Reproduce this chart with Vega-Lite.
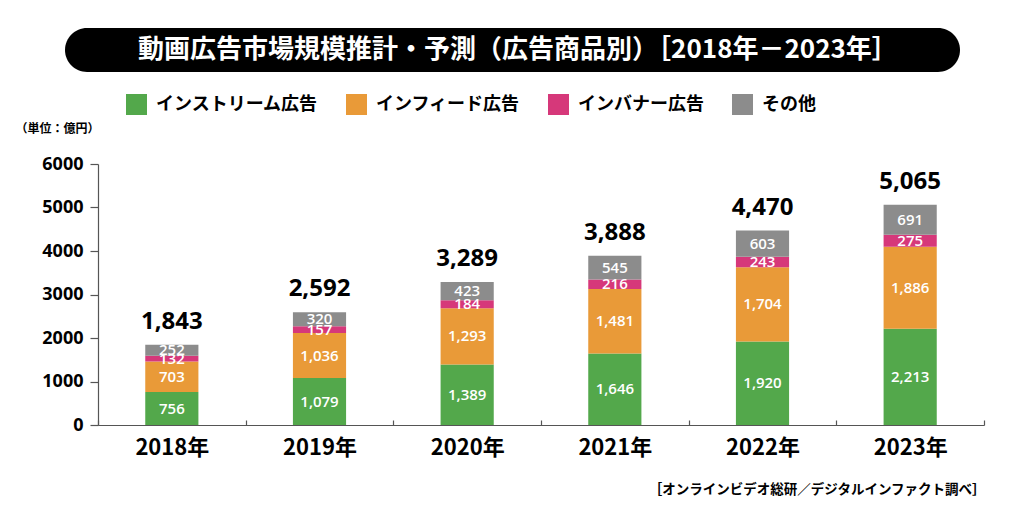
{
  "$schema": "https://vega.github.io/schema/vega-lite/v6.json",
  "background": "white",
  "autosize": {"type": "none"},
  "padding": {"left": 98, "top": 164, "right": 40, "bottom": 98},
  "width": 886,
  "height": 261,
  "config": {"view": {"stroke": null}, "font": "Noto Sans CJK JP"},
  "datasets": {
    "header": [{"t": "動画広告市場規模推計・予測（広告商品別）［2018年－2023年］"}],
    "market": [
      {"year": "2018年", "cat": "インストリーム広告", "ord": 1, "value": 756},
      {"year": "2018年", "cat": "インフィード広告", "ord": 2, "value": 703},
      {"year": "2018年", "cat": "インバナー広告", "ord": 3, "value": 132},
      {"year": "2018年", "cat": "その他", "ord": 4, "value": 252},
      {"year": "2019年", "cat": "インストリーム広告", "ord": 1, "value": 1079},
      {"year": "2019年", "cat": "インフィード広告", "ord": 2, "value": 1036},
      {"year": "2019年", "cat": "インバナー広告", "ord": 3, "value": 157},
      {"year": "2019年", "cat": "その他", "ord": 4, "value": 320},
      {"year": "2020年", "cat": "インストリーム広告", "ord": 1, "value": 1389},
      {"year": "2020年", "cat": "インフィード広告", "ord": 2, "value": 1293},
      {"year": "2020年", "cat": "インバナー広告", "ord": 3, "value": 184},
      {"year": "2020年", "cat": "その他", "ord": 4, "value": 423},
      {"year": "2021年", "cat": "インストリーム広告", "ord": 1, "value": 1646},
      {"year": "2021年", "cat": "インフィード広告", "ord": 2, "value": 1481},
      {"year": "2021年", "cat": "インバナー広告", "ord": 3, "value": 216},
      {"year": "2021年", "cat": "その他", "ord": 4, "value": 545},
      {"year": "2022年", "cat": "インストリーム広告", "ord": 1, "value": 1920},
      {"year": "2022年", "cat": "インフィード広告", "ord": 2, "value": 1704},
      {"year": "2022年", "cat": "インバナー広告", "ord": 3, "value": 243},
      {"year": "2022年", "cat": "その他", "ord": 4, "value": 603},
      {"year": "2023年", "cat": "インストリーム広告", "ord": 1, "value": 2213},
      {"year": "2023年", "cat": "インフィード広告", "ord": 2, "value": 1886},
      {"year": "2023年", "cat": "インバナー広告", "ord": 3, "value": 275},
      {"year": "2023年", "cat": "その他", "ord": 4, "value": 691}
    ]
  },
  "data": {"name": "market"},
  "layer": [
    {
      "mark": {"type": "bar", "width": {"band": 0.36}},
      "encoding": {
        "x": {
          "field": "year", "type": "nominal", "sort": null,
          "scale": {"domain": ["2018年", "2019年", "2020年", "2021年", "2022年", "2023年"], "paddingInner": 0, "paddingOuter": 0},
          "axis": {
            "title": "［オンラインビデオ総研／デジタルインファクト調べ］",
            "titleFont": "Noto Sans CJK JP", "titleFontSize": 13.5, "titleFontWeight": "bold", "titleColor": "black",
            "titleAlign": "right", "titleAnchor": "end", "titleX": 887, "titleY": 64, "titleBaseline": "middle",
            "labelAngle": 0, "labelFont": "Noto Sans CJK JP", "labelFontSize": 22, "labelFontWeight": "bold", "labelColor": "black",
            "labelPadding": 17, "tickBand": "extent", "tickSize": -5, "tickColor": "#555555", "domainColor": "#555555", "domainWidth": 1.2, "tickWidth": 1.2
          }
        },
        "y": {
          "field": "value", "type": "quantitative", "stack": "zero",
          "scale": {"domain": [0, 6000]},
          "axis": {
            "values": [0, 1000, 2000, 3000, 4000, 5000, 6000], "format": "d", "grid": false,
            "title": "（単位：億円）", "titleAngle": 0, "titleAlign": "left", "titleBaseline": "middle",
            "titleX": -83, "titleY": -36, "titleFont": "Noto Sans CJK JP", "titleFontSize": 12, "titleFontWeight": "bold", "titleColor": "black",
            "labelFont": "Open Sans", "labelFontSize": 18, "labelFontWeight": "bold", "labelColor": "black", "labelPadding": 7,
            "tickSize": 8, "tickColor": "#555555", "domainColor": "#555555", "domainWidth": 1.2, "tickWidth": 1.2
          }
        },
        "color": {
          "field": "cat", "type": "nominal",
          "scale": {"domain": ["インストリーム広告", "インフィード広告", "インバナー広告", "その他"], "range": ["#53a84b", "#e99a38", "#d6387a", "#8c8c8c"]},
          "legend": {
            "orient": "none", "legendX": 28, "legendY": -70, "direction": "horizontal", "padding": 0, "title": null,
            "symbolType": "square", "symbolSize": 441, "symbolStrokeWidth": 0, "symbolOpacity": 1,
            "labelFont": "Noto Sans CJK JP", "labelFontSize": 18, "labelFontWeight": "bold", "labelColor": "black",
            "labelOffset": 9, "columnPadding": 28, "labelLimit": 300
          }
        },
        "order": {"field": "ord"}
      }
    },
    {
      "mark": {"type": "text", "color": "white", "font": "Open Sans", "fontSize": 15, "fontWeight": 600, "baseline": "middle"},
      "encoding": {
        "x": {"field": "year", "type": "nominal", "sort": null},
        "y": {"field": "value", "type": "quantitative", "stack": "zero", "bandPosition": 0.5},
        "detail": {"field": "cat"},
        "order": {"field": "ord"},
        "text": {"field": "value", "format": ","}
      }
    },
    {
      "transform": [{"aggregate": [{"op": "sum", "field": "value", "as": "total"}], "groupby": ["year"]}],
      "mark": {"type": "text", "color": "black", "font": "Open Sans", "fontSize": 24, "fontWeight": "bold", "baseline": "alphabetic", "dy": -16},
      "encoding": {
        "x": {"field": "year", "type": "nominal", "sort": null},
        "y": {"field": "total", "type": "quantitative"},
        "text": {"field": "total", "format": ","}
      }
    },
    {
      "data": {"name": "header"},
      "mark": {"type": "rect", "color": "black", "cornerRadius": 22, "clip": false},
      "encoding": {
        "x": {"datum": "2018年", "bandPosition": -0.2235},
        "x2": {"datum": "2023年", "bandPosition": 0.8375},
        "y": {"datum": 9126},
        "y2": {"datum": 8115}
      }
    },
    {
      "data": {"name": "header"},
      "mark": {"type": "text", "color": "white", "fontSize": 26, "fontWeight": "bold", "font": "Noto Sans CJK JP", "baseline": "middle", "align": "center", "clip": false},
      "encoding": {
        "x": {"datum": "2020年", "bandPosition": 0.844},
        "y": {"datum": 8621},
        "text": {"field": "t"}
      }
    }
  ]
}
